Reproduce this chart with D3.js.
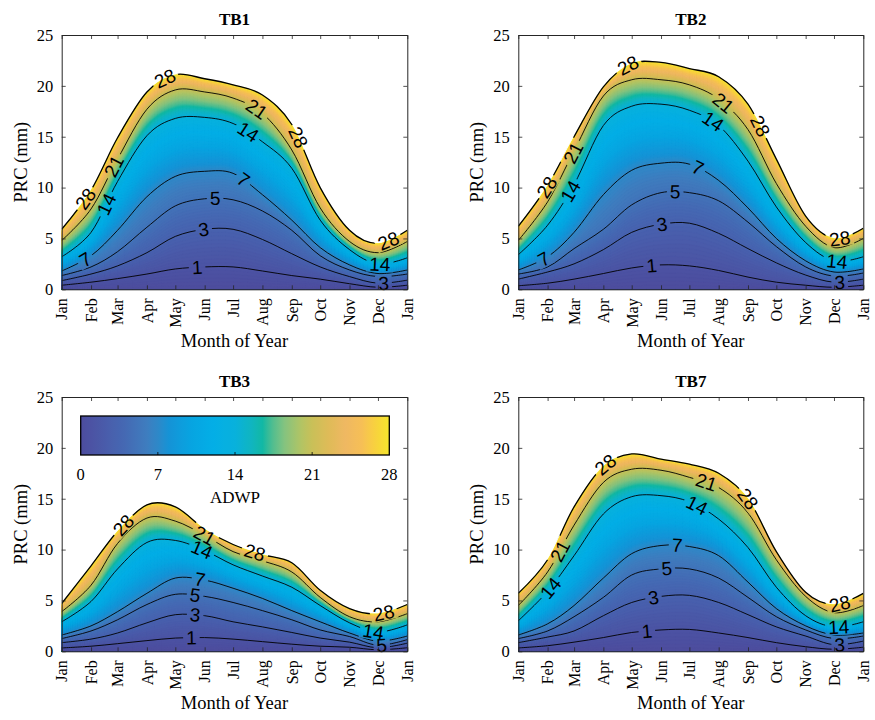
<!DOCTYPE html>
<html><head><meta charset="utf-8">
<script src="https://cdn.jsdelivr.net/npm/d3@7"></script>
<style>body{margin:0;background:#fff}</style>
</head><body>
<svg id="chart" width="875" height="720"></svg>
<script>
// ---------------- data ----------------
const months = ["Jan","Feb","Mar","Apr","May","Jun","Jul","Aug","Sep","Oct","Nov","Dec","Jan"];
const monthDays = [0,31,59,90,120,151,181,212,243,273,304,334,365];
const levels = [1,3,5,7,14,21,28];
const yTicks = [0,5,10,15,20,25];
const cbarTicks = [0,7,14,21,28];
const colorStops = [0,2,4,6,7,8,10,12,14,15.5,16.5,17.3,18.5,20,21,22.5,24,25.5,26.5,28];
const colorHex = ["#4d4c9e","#4a5aa9","#4569b3","#3e7dbf","#2e88c8","#1593d6","#07a4e1","#03aee6","#08b1dc","#10b5c0","#12b8a4","#4bbd91","#85c37f","#b2c464","#c9c058","#dfbb58","#efb862","#f6bf56","#f8ce42","#f5e62b"];

// PRC (mm) of each ADWP contour level (rows: 1,3,5,7,14,21,28) at each month start
const tb1 = [
  [0.40,0.70,1.05,1.50,2.00,2.20,2.20,1.80,1.35,1.00,0.55,0.20,0.40],
  [0.85,1.50,2.30,3.60,5.20,5.90,5.90,4.90,3.50,2.20,1.25,0.60,0.90],
  [1.35,2.20,3.70,6.10,8.20,8.90,8.80,7.70,5.80,3.30,1.90,1.25,1.50],
  [1.80,3.30,5.80,9.10,11.1,11.6,11.4,9.30,6.80,4.10,2.40,1.55,1.90],
  [3.20,5.60,10.6,15.1,16.8,16.9,16.3,14.5,11.9,6.80,3.90,2.50,3.10],
  [4.80,7.90,12.8,17.7,19.6,19.4,18.8,17.3,13.7,8.00,4.70,3.60,4.70],
  [5.90,9.75,14.9,19.4,21.1,20.7,20.1,19.1,16.2,10.0,5.80,4.50,5.80]
];
const tb2 = [
  [0.35,0.60,1.00,1.55,2.10,2.40,2.30,1.85,1.20,0.70,0.40,0.20,0.40],
  [1.00,1.70,2.50,3.90,5.60,6.40,6.50,5.50,4.00,2.60,1.40,0.70,1.00],
  [1.50,2.20,4.00,5.90,8.30,9.50,9.50,8.70,6.60,4.20,2.20,1.30,1.60],
  [1.90,3.20,5.60,9.30,11.7,12.4,12.3,10.7,8.00,5.00,2.80,1.70,2.00],
  [3.40,6.30,10.3,16.1,18.0,18.2,17.6,16.1,12.6,8.10,4.60,2.80,3.20],
  [4.80,8.60,13.6,19.0,20.6,20.6,20.1,18.7,15.7,10.4,6.20,4.10,5.00],
  [6.20,10.2,15.0,19.9,22.2,22.3,21.7,20.9,18.2,12.8,7.20,5.00,6.00]
];
const tb3 = [
  [0.33,0.50,0.75,1.05,1.30,1.35,1.20,0.95,0.70,0.50,0.40,0.15,0.35],
  [0.85,1.20,1.80,2.80,3.60,3.50,2.90,2.40,1.85,1.30,0.90,0.35,0.80],
  [1.25,2.00,3.10,4.60,5.60,5.40,4.80,4.00,3.10,2.10,1.45,0.60,1.15],
  [1.60,2.50,3.90,5.70,7.20,7.00,6.20,5.20,4.00,2.90,1.80,1.00,1.50],
  [2.90,4.90,8.10,10.7,10.9,9.90,8.50,7.40,6.30,4.50,2.80,1.90,2.60],
  [3.90,6.50,10.6,13.1,12.8,11.4,9.80,8.90,7.80,5.30,3.40,2.90,3.70],
  [4.70,8.40,11.8,14.4,14.2,12.0,10.5,9.50,8.70,6.00,4.20,3.70,4.60]
];
const tb7 = [
  [0.33,0.55,0.90,1.35,1.85,2.10,2.15,1.80,1.35,0.85,0.45,0.20,0.40],
  [0.85,1.40,2.00,3.50,4.80,5.40,5.50,4.80,3.60,2.40,1.50,0.65,1.00],
  [1.25,2.00,3.40,5.30,7.50,8.10,8.10,7.20,5.30,3.40,2.10,1.25,1.50],
  [1.60,2.70,4.50,7.20,9.60,10.4,10.3,9.40,6.80,4.20,2.50,1.60,1.80],
  [3.00,5.90,9.40,13.5,15.2,15.3,14.7,13.0,10.2,6.30,3.50,2.40,2.90],
  [4.50,7.80,12.4,16.6,17.9,17.8,17.1,16.1,13.6,9.00,5.40,3.80,4.50],
  [5.70,9.00,14.2,18.2,19.4,18.9,18.4,17.5,15.0,9.80,5.80,4.60,5.70]
];
const panelNames = ["TB1","TB2","TB3","TB7"];
// contour label placement: [level, day of year]
const labelsTB1 = [[28,25],[28,109],[28,250],[28,345],[21,55],[21,206],[14,47],[14,197],[14,336],[7,25],[7,192],[5,162],[3,150],[3,340],[1,143]];
const labelsTB2 = [[28,30],[28,116],[28,256],[28,340],[21,58],[21,217],[14,55],[14,206],[14,337],[7,27],[7,190],[5,166],[3,152],[3,340],[1,141]];
const labelsTB3 = [[28,65],[28,204],[28,340],[21,151],[14,148],[14,329],[7,146],[5,141],[5,338],[3,141],[1,137]];
const labelsTB7 = [[28,92],[28,243],[28,340],[21,44],[21,199],[14,34],[14,189],[14,339],[7,168],[5,157],[3,143],[3,340],[1,136]];

// ---------------- layout ----------------
const boxes = [
  {x0:61.7, x1:407.3, y0:35, y1:289.3},
  {x0:518.3, x1:863.3, y0:35, y1:289.3},
  {x0:61.7, x1:407.3, y0:397, y1:651.3},
  {x0:518.3, x1:863.3, y0:397, y1:651.3}
];
const svg = d3.select("#chart");
const defs = svg.append("defs");
const color = d3.scaleLinear().domain(colorStops).range(colorHex).interpolate(d3.interpolateRgb).clamp(true);
const serif = "'Liberation Serif','Times New Roman',Times,serif";
const sans = "'Liberation Sans',Arial,Helvetica,sans-serif";
const axisCol = "#262626";
const curve = d3.curveCardinal.tension(0);

function drawPanel(idx, rows, labels) {
  const b = boxes[idx];
  const x = d3.scaleLinear().domain([0,365]).range([b.x0,b.x1]);
  const y = d3.scaleLinear().domain([0,25]).range([b.y1,b.y0]);
  const g = svg.append("g");
  defs.append("clipPath").attr("id","clip"+idx).append("rect")
    .attr("x",b.x0).attr("y",b.y0).attr("width",b.x1-b.x0).attr("height",b.y1-b.y0);

  // filled bands
  const allLevels = [0, ...levels];
  const allRows = [monthDays.map(()=>0), ...rows];
  const bands = [];
  for (let k=0;k<levels.length;k++){
    const lo=allLevels[k], hi=allLevels[k+1];
    const n = Math.max(6, Math.round((hi-lo)/0.2));
    for (let j=1;j<=n;j++){
      const t=j/n;
      bands.push({vmid: lo+(j-0.5)/n*(hi-lo),
        vals: monthDays.map((d,i)=>allRows[k][i]+t*(allRows[k+1][i]-allRows[k][i]))});
    }
  }
  bands.reverse();
  const area = d3.area().x((d,i)=>x(monthDays[i])).y0(y(0)).y1(d=>y(d)).curve(curve);
  const fillG = g.append("g").attr("clip-path","url(#clip"+idx+")");
  fillG.selectAll("path").data(bands).join("path")
    .attr("d",d=>area(d.vals)).attr("fill",d=>color(d.vmid)).attr("stroke",d=>color(d.vmid)).attr("stroke-width",0.3);

  // contour lines with label gaps
  const mask = defs.append("mask").attr("id","mask"+idx).attr("maskUnits","userSpaceOnUse")
    .attr("x",0).attr("y",0).attr("width",875).attr("height",720);
  mask.append("rect").attr("x",0).attr("y",0).attr("width",875).attr("height",720).attr("fill","#fff");
  const line = d3.line().x((d,i)=>x(monthDays[i])).y(d=>y(d)).curve(curve);
  const lineG = g.append("g").attr("clip-path","url(#clip"+idx+")").append("g").attr("mask","url(#mask"+idx+")");
  const paths = {};
  levels.forEach((lv,k)=>{
    paths[lv] = lineG.append("path").attr("d",line(rows[k])).attr("fill","none")
      .attr("stroke","#000").attr("stroke-width",lv===28?1.3:0.9).node();
  });
  const labG = g.append("g");
  labels.forEach(([lv,day])=>{
    const p = paths[lv];
    const L = p.getTotalLength();
    const tx = x(day);
    let lo=0, hi=L;
    for (let it=0;it<40;it++){ const m=(lo+hi)/2; if (p.getPointAtLength(m).x<tx) lo=m; else hi=m; }
    const len=(lo+hi)/2;
    const pt=p.getPointAtLength(len);
    const a=p.getPointAtLength(Math.max(0,len-5)), c=p.getPointAtLength(Math.min(L,len+5));
    const ang = Math.atan2(c.y-a.y, c.x-a.x)*180/Math.PI;
    const t = labG.append("text").attr("transform",`translate(${pt.x},${pt.y}) rotate(${ang})`)
      .attr("text-anchor","middle").attr("dy","0.36em")
      .style("font-family",sans).style("font-size","19px").attr("fill","#000").text(lv);
    const w = t.node().getComputedTextLength()+6;
    mask.append("rect").attr("x",-w/2).attr("y",-8).attr("width",w).attr("height",16)
      .attr("transform",`translate(${pt.x},${pt.y}) rotate(${ang})`).attr("fill","#000");
  });

  // axes
  const ax = g.append("g").style("font-family",serif);
  const bottom = ax.append("g").attr("transform",`translate(0,${b.y1})`)
    .call(d3.axisBottom(x).tickValues(monthDays).tickFormat((d,i)=>months[i]).tickSizeInner(-4).tickSizeOuter(0));
  bottom.selectAll("text").attr("transform","rotate(-90)").attr("x",-9).attr("y",0).attr("dy","0.33em")
    .attr("text-anchor","end").style("font-size","16px").style("font-family",serif).attr("fill","#000");
  ax.append("g").attr("transform",`translate(0,${b.y0})`)
    .call(d3.axisTop(x).tickValues(monthDays).tickFormat("").tickSizeInner(-4).tickSizeOuter(0));
  const left = ax.append("g").attr("transform",`translate(${b.x0},0)`)
    .call(d3.axisLeft(y).tickValues(yTicks).tickSizeInner(-4).tickSizeOuter(0).tickPadding(8.5));
  left.selectAll("text").style("font-size","16.5px").style("font-family",serif).attr("fill","#000");
  ax.append("g").attr("transform",`translate(${b.x1},0)`)
    .call(d3.axisRight(y).tickValues(yTicks).tickFormat("").tickSizeInner(-4).tickSizeOuter(0));
  ax.selectAll(".domain").attr("stroke",axisCol).attr("stroke-width",1);
  ax.selectAll(".tick line").attr("stroke",axisCol).attr("stroke-width",0.8);

  const cx=(b.x0+b.x1)/2;
  g.append("text").attr("x",cx).attr("y",b.y0-10).attr("text-anchor","middle")
    .style("font-family",serif).style("font-size","17px").style("font-weight","bold").text(panelNames[idx]);
  g.append("text").attr("x",cx).attr("y",b.y1+58).attr("text-anchor","middle")
    .style("font-family",serif).style("font-size","18.5px").text("Month of Year");
  g.append("text").attr("transform",`translate(${b.x0-35},${(b.y0+b.y1)/2}) rotate(-90)`).attr("text-anchor","middle")
    .style("font-family",serif).style("font-size","18.5px").text("PRC (mm)");
}

drawPanel(0, tb1, labelsTB1);
drawPanel(1, tb2, labelsTB2);
drawPanel(2, tb3, labelsTB3);
drawPanel(3, tb7, labelsTB7);

// colorbar inside TB3
const cb = {x0:80.7, x1:389.3, y0:416, y1:455};
const cbScale = d3.scaleLinear().domain([0,28]).range([cb.x0,cb.x1]);
const grad = defs.append("linearGradient").attr("id","cbgrad").attr("x1","0%").attr("x2","100%").attr("y1","0%").attr("y2","0%");
d3.range(0,28.01,0.5).forEach(v=>grad.append("stop").attr("offset",(v/28*100)+"%").attr("stop-color",color(v)));
const cbg = svg.append("g");
cbg.append("rect").attr("x",cb.x0).attr("y",cb.y0).attr("width",cb.x1-cb.x0).attr("height",cb.y1-cb.y0)
  .attr("fill","url(#cbgrad)").attr("stroke","#000").attr("stroke-width",1.3);
cbg.selectAll("line.cbt").data(cbarTicks.slice(1,-1)).join("line").attr("class","cbt")
  .attr("x1",d=>cbScale(d)).attr("x2",d=>cbScale(d)).attr("y1",cb.y1).attr("y2",cb.y1-3)
  .attr("stroke","#000").attr("stroke-width",0.8);
cbg.selectAll("text.cbl").data(cbarTicks).join("text").attr("class","cbl")
  .attr("x",d=>cbScale(d)).attr("y",480).attr("text-anchor","middle")
  .style("font-family",serif).style("font-size","16.5px").text(d=>d);
cbg.append("text").attr("x",(cb.x0+cb.x1)/2).attr("y",503).attr("text-anchor","middle")
  .style("font-family",serif).style("font-size","17px").text("ADWP");
</script>
</body></html>
